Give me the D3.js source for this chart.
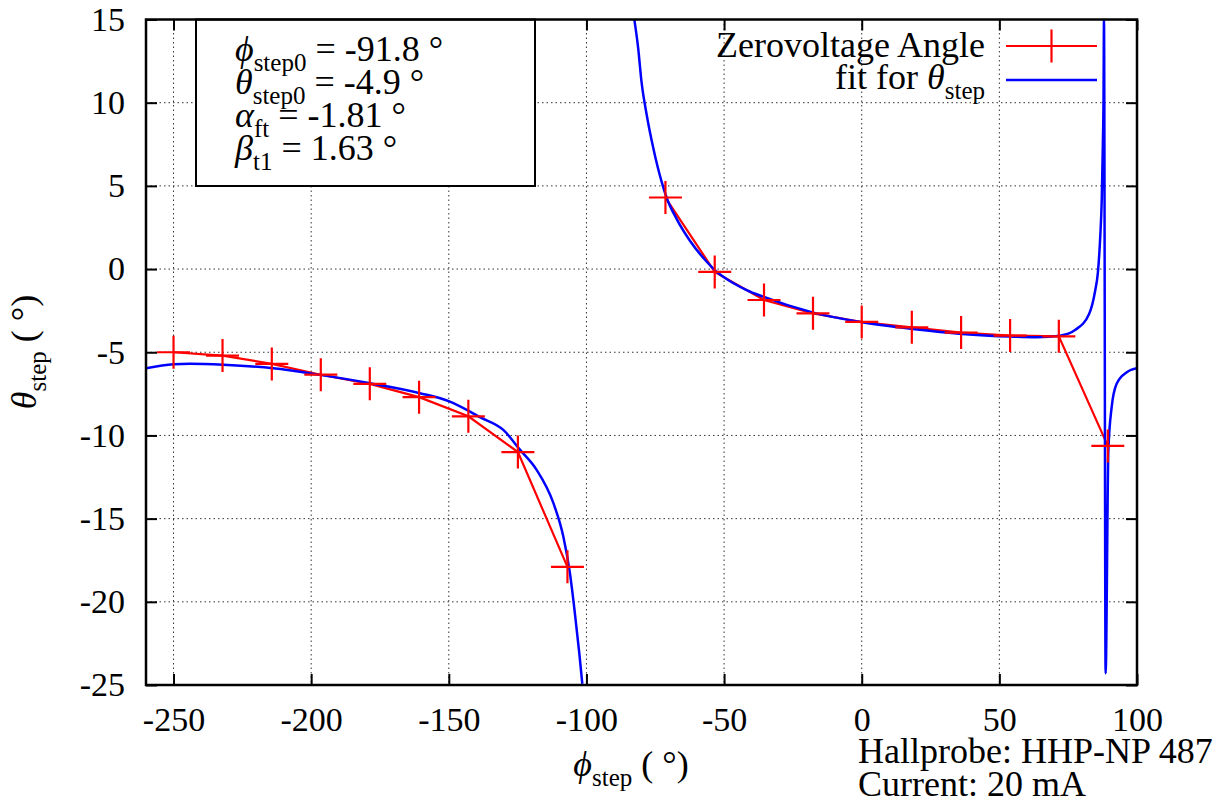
<!DOCTYPE html>
<html>
<head>
<meta charset="utf-8">
<script src="https://cdn.jsdelivr.net/npm/d3@7"></script>
<style>
  body { margin: 0; background: #fff; }
  svg text { font-family: "Liberation Serif", "DejaVu Serif", serif; fill: #000; }
</style>
</head>
<body>
<svg id="chart" width="1227" height="804"></svg>
<script>
// measured zero-voltage angles (deg), null = missing point
var phiStep   = [-250, -232.2, -214.3, -196.5, -178.7, -160.8, -142.9, -124.9, -106.9, -89.1, -71.3, -53.4, -35.5, -17.7, 0, 18.2, 36.1, 53.9, 71.6, 89.4];
var thetaStep = [-5.0, -5.2, -5.7, -6.35, -6.9, -7.7, -8.85, -11.0, -17.9, null, 4.3, -0.17, -1.86, -2.66, -3.18, -3.5, -3.82, -4.0, -4.04, -10.63];

// fit curve (left branch)
var fitLeftPhi   = [-260, -250, -244, -231.9, -213.8, -196.8, -178.6, -160.5, -149.6, -142.3, -138.7, -130.2, -124.1, -118.1, -112.0, -108.4, -106.0, -104.2, -102.6, -101.5];
var fitLeftTheta = [-5.96, -5.72, -5.69, -5.75, -5.96, -6.36, -6.86, -7.46, -7.97, -8.57, -8.9, -9.67, -10.87, -12.07, -14.07, -16.08, -18.28, -20.69, -23.09, -24.93];

// fit curve, right branch incl. the spike near 88 deg
var fitRightPhi   = [-82.6, -81.2, -80.0, -78.1, -75.7, -72.7, -70.9, -67.2, -62.4, -56.3, -52.7, -50.3, -41.8, -35.8, -17.6, 0.2, 18.5, 36.4, 54.2, 63.6, 72.0, 77.5, 82.6, 84.8, 85.8, 86.6, 87.2, 87.6, 87.85, 88.0, 88.6, 89.6, 90.8, 92.6, 96.3, 100];
var fitRightTheta = [15, 13.27, 11.26, 9.26, 7.26, 5.25, 4.3, 3.0, 1.7, 0.44, -0.16, -0.46, -1.26, -1.66, -2.62, -3.2, -3.6, -3.9, -4.06, -4.1, -4.0, -3.66, -2.7, -1.3, -0.2, 1.8, 4.2, 7.5, 10.5, 15, -24.3, -10.9, -8.3, -6.9, -6.2, -5.96];

var xTicks = [-250, -200, -150, -100, -50, 0, 50, 100];
var yTicks = [-25, -20, -15, -10, -5, 0, 5, 10, 15];

var fitSymbols = ["ϕ", "θ", "α", "β"];
var fitSubs    = ["step0", "step0", "ft", "t1"];
var fitValues  = ["-91.8", "-4.9", "-1.81", "1.63"];

var infoLines = ["Hallprobe: HHP-NP 487", "Current: 20 mA"];

(function() {
  var fs = 36, tickFs = 34, subFs = 25, subDy = 10;
  var pL = 146, pR = 1137, pT = 19.5, pB = 685;

  var svg = d3.select("#chart");

  var x = d3.scaleLinear().domain([-260, 100]).range([pL, pR]);
  var y = d3.scaleLinear().domain([-25, 15]).range([pB, pT]);

  // grid
  var grid = svg.append("g")
      .attr("stroke", "#333")
      .attr("stroke-width", 1)
      .attr("stroke-dasharray", "1.5,3");
  grid.selectAll(".gx").data(xTicks).enter().append("line")
      .attr("x1", d => x(d)).attr("x2", d => x(d))
      .attr("y1", pT).attr("y2", pB);
  grid.selectAll(".gy").data(yTicks).enter().append("line")
      .attr("x1", pL).attr("x2", pR)
      .attr("y1", d => y(d)).attr("y2", d => y(d));

  // axes, ticks inward on all four sides
  function styleAxis(g) {
    g.select(".domain").remove();
    g.attr("font-family", null).attr("font-size", tickFs);
    g.selectAll(".tick line").attr("stroke", "#000").attr("stroke-width", 2);
    g.selectAll(".tick text").attr("fill", "#000");
  }
  var fmt = d => String(d);
  svg.append("g").attr("transform", "translate(0," + pB + ")")
      .call(d3.axisBottom(x).tickValues(xTicks).tickFormat(fmt).tickSizeInner(-11).tickSizeOuter(0).tickPadding(22))
      .call(styleAxis);
  svg.append("g").attr("transform", "translate(0," + pT + ")")
      .call(d3.axisTop(x).tickValues(xTicks).tickFormat("").tickSizeInner(-11).tickSizeOuter(0))
      .call(styleAxis);
  svg.append("g").attr("transform", "translate(" + pL + ",0)")
      .call(d3.axisLeft(y).tickValues(yTicks).tickFormat(fmt).tickSizeInner(-11).tickSizeOuter(0).tickPadding(21))
      .call(styleAxis);
  svg.append("g").attr("transform", "translate(" + pR + ",0)")
      .call(d3.axisRight(y).tickValues(yTicks).tickFormat("").tickSizeInner(-11).tickSizeOuter(0))
      .call(styleAxis);

  // parameter box
  svg.append("rect")
      .attr("x", 196).attr("y", pT).attr("width", 339).attr("height", 166.5)
      .attr("fill", "#fff").attr("stroke", "#000").attr("stroke-width", 2);
  fitSymbols.forEach(function(s, i) {
    var t = svg.append("text").attr("x", 235).attr("y", 61 + i * 33).attr("font-size", fs);
    t.append("tspan").attr("font-style", "italic").text(s);
    t.append("tspan").attr("font-size", subFs).attr("dy", subDy).text(fitSubs[i]);
    t.append("tspan").attr("dy", -subDy).text(" = " + fitValues[i] + " °");
  });

  // curves
  svg.append("clipPath").attr("id", "plotclip")
    .append("rect").attr("x", pL).attr("y", pT).attr("width", pR - pL).attr("height", pB - pT);
  var plot = svg.append("g").attr("clip-path", "url(#plotclip)");

  var dataPts = phiStep.map((p, i) => ({p: p, t: thetaStep[i]}));
  var redLine = d3.line().defined(d => d.t != null).x(d => x(d.p)).y(d => y(d.t));
  plot.append("path").datum(dataPts)
      .attr("d", redLine).attr("fill", "none").attr("stroke", "#ff0000").attr("stroke-width", 2.2);

  var fitLine = d3.line().curve(d3.curveMonotoneX).x(d => x(d.p)).y(d => y(d.t));
  [[fitLeftPhi, fitLeftTheta], [fitRightPhi, fitRightTheta]].forEach(function(s) {
    plot.append("path").datum(s[0].map((p, i) => ({p: p, t: s[1][i]})))
        .attr("d", fitLine).attr("fill", "none").attr("stroke", "#0000ff").attr("stroke-width", 2.5);
  });

  var ps = 16.5;
  function plus(g, cx, cy) {
    g.append("path").attr("d", "M" + (cx - ps) + "," + cy + "H" + (cx + ps) + "M" + cx + "," + (cy - ps) + "V" + (cy + ps))
        .attr("stroke", "#ff0000").attr("stroke-width", 2.2).attr("fill", "none");
  }
  dataPts.filter(d => d.t != null).forEach(d => plus(plot, x(d.p), y(d.t)));

  // legend
  var lx0 = 1006, lx1 = 1097;
  svg.append("text").attr("x", 985).attr("y", 57).attr("text-anchor", "end").attr("font-size", fs).text("Zerovoltage Angle");
  svg.append("line").attr("x1", lx0).attr("x2", lx1).attr("y1", 46).attr("y2", 46).attr("stroke", "#ff0000").attr("stroke-width", 2.2);
  plus(svg, (lx0 + lx1) / 2, 46);
  var lt = svg.append("text").attr("x", 985).attr("y", 89).attr("text-anchor", "end").attr("font-size", fs);
  lt.append("tspan").text("fit for ");
  lt.append("tspan").attr("font-style", "italic").text("θ");
  lt.append("tspan").attr("font-size", subFs).attr("dy", subDy).text("step");
  svg.append("line").attr("x1", lx0).attr("x2", lx1).attr("y1", 80).attr("y2", 80).attr("stroke", "#0000ff").attr("stroke-width", 2.5);

  // border
  svg.append("rect").attr("x", pL).attr("y", pT).attr("width", pR - pL).attr("height", pB - pT)
      .attr("fill", "none").attr("stroke", "#000").attr("stroke-width", 2.5);

  // axis labels
  var xl = svg.append("text").attr("x", 631).attr("y", 776).attr("text-anchor", "middle").attr("font-size", fs);
  xl.append("tspan").attr("font-style", "italic").text("ϕ");
  xl.append("tspan").attr("font-size", subFs).attr("dy", subDy).text("step");
  xl.append("tspan").attr("dy", -subDy).text(" ( °)");

  var yl = svg.append("text").attr("transform", "translate(36,352) rotate(-90)").attr("text-anchor", "middle").attr("font-size", fs);
  yl.append("tspan").attr("font-style", "italic").text("θ");
  yl.append("tspan").attr("font-size", subFs).attr("dy", subDy).text("step");
  yl.append("tspan").attr("dy", -subDy).text(" ( °)");

  // probe info
  infoLines.forEach(function(s, i) {
    svg.append("text").attr("x", 858).attr("y", 763 + i * 33).attr("font-size", fs).text(s);
  });
})();
</script>
</body>
</html>
